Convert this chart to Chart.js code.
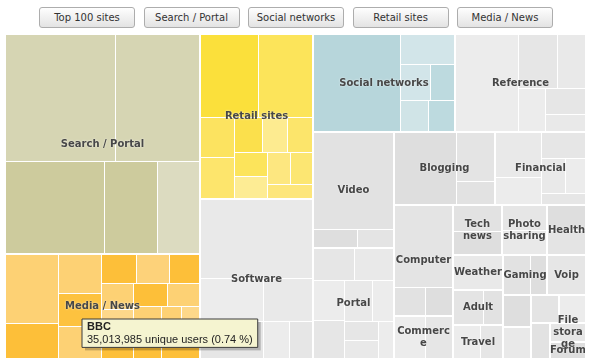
<!DOCTYPE html>
<html lang="en">
<head>
  <meta charset="UTF-8">
  <title>Top 100 sites</title>
  <script src="https://cdn.jsdelivr.net/npm/chart.js"></script>
  <style>
    body { margin: 0; background: #fff; }
    #buttons { position: absolute; left: 39px; top: 7px; display: flex; gap: 8.5px; }
    #buttons button {
      width: 96px; height: 21px; padding: 0;
      font: 10px "DejaVu Sans", sans-serif; color: #333;
      background: linear-gradient(#fefefe, #e3e3e3);
      border: 1px solid #adadad; border-radius: 3px;
    }
    #box { position: absolute; left: 4px; top: 33px; width: 581px; height: 325px; }
  </style>
</head>
<body>
  <div id="buttons">
    <button>Top 100 sites</button>
    <button>Search / Portal</button>
    <button>Social networks</button>
    <button>Retail sites</button>
    <button>Media / News</button>
  </div>
  <div id="box"><canvas id="map"></canvas></div>

  <script>
    // unique users per site, in millions, largest first inside each category
    const groupNames = ['Search / Portal', 'Media / News', 'Retail sites', 'Software', 'Social networks',
      'Reference', 'Video', 'Portal', 'Blogging', 'Financial', 'Computer', 'Commerce', 'Tech news',
      'Photo sharing', 'Health', 'Weather', 'Adult', 'Travel', 'Gaming', 'Voip', 'Music', 'Email',
      'Maps', 'Dating', 'Sports', 'File storage', 'Forum'];

    const searchPortal = [351.7, 270.3, 230.0, 123.3, 97.2];
    const mediaNews = [94.2, 47.1, 42.4, 35.013985, 34.4, 26.1, 24.0, 22.1, 21.3, 20.8, 20.3, 19.7, 19.2, 18.7, 18.1, 17.3, 16.5, 15.4];
    const retailSites = [123.1, 112.3, 35.0, 35.0, 25.2, 22.4, 22.4, 19.6, 18.8, 18.2, 17.3, 16.4];
    const software = [225.3, 69.3, 59.4, 52.5, 23.9, 21.1];
    const socialNetworks = [216.3, 42.1, 27.2, 22.7, 21.8, 21.0];
    const reference = [154.3, 54.3, 37.6, 30.0, 26.8, 18.2];
    const video = [199.5, 19.6, 15.6];
    const portal = [34.4, 32.7, 31.7, 30.0, 29.5, 21.1, 17.5, 15.6, 14.0];
    const blogging = [113.5, 48.2, 22.1];
    const financial = [52.7, 30.7, 29.3, 22.1, 17.4, 12.5];
    const computer = [121.9, 22.3, 19.3];
    const commerce = [34.3, 28.8];
    const techNews = [32.9, 28.9];
    const photoSharing = [29.6, 28.3];
    const health = [25.1, 23.8];
    const weather = [44.5];
    const adult = [26.9, 17.4];
    const travel = [23.4, 19.9];
    const gaming = [26.9, 15.6];
    const voip = [39.0];
    const music = [22.7];
    const email = [22.1];
    const maps = [19.8];
    const dating = [19.3];
    const sports = [17.0];
    const fileStorage = [16.8];
    const forum = [15.0];

    const groupSites = [searchPortal, mediaNews, retailSites, software, socialNetworks, reference, video,
      portal, blogging, financial, computer, commerce, techNews, photoSharing, health, weather, adult,
      travel, gaming, voip, music, email, maps, dating, sports, fileStorage, forum];

    // the site shown in the tooltip
    const shownSite = { group: 1, index: 3, name: 'BBC' };

    // colours
    const searchColors = ['#d6d5b3', '#d6d5b3', '#cdcb9d', '#cdcb9d', '#dcdbc0'];
    const mediaColors = ['#fdd174', '#fdbf39', '#fdd174', '#fdc23f', '#fdd174', '#fdbf39', '#fdd27a', '#fdbf39',
      '#fdd174', '#fdd88a', '#fdbf39', '#fdbf39', '#fdd174', '#fdd174', '#fdbf39', '#fdd174', '#fdd88a', '#fdbf39'];
    const retailColors = ['#fbe03b', '#fce45a', '#fce360', '#fde56c', '#fbe04c', '#fdeb90', '#fce56b', '#fce45b',
      '#fdec94', '#fde780', '#fce672', '#fde67b'];
    const socialColors = ['#b7d6db', '#d2e5e9', '#d2e5e9', '#bddadf', '#d0e4e7', '#bddadf'];
    const grays = ['#e2e2e2', '#e6e6e6', '#dedede', '#e9e9e9', '#e4e4e4', '#ececec'];
    const groupColors = { 0: searchColors, 1: mediaColors, 2: retailColors, 4: socialColors };

    const W = 581, H = 325;

    const leaves = [];
    groupSites.forEach((sites, g) => sites.forEach((v, s) => {
      const pal = groupColors[g];
      leaves.push({ g, s, v, color: pal ? pal[s % pal.length] : grays[(g + s * 2) % grays.length] });
    }));
    const total = leaves.reduce((a, l) => a + l.v, 0);

    function worst(row, side) {
      const s = row.reduce((a, b) => a + b, 0);
      const max = Math.max(...row), min = Math.min(...row);
      return Math.max(side * side * max / (s * s), (s * s) / (side * side * min));
    }

    // classic squarified layout, values already sorted largest first
    function squarify(values, rect) {
      const sum = values.reduce((a, b) => a + b, 0);
      const k = (rect.x1 - rect.x0) * (rect.y1 - rect.y0) / sum;
      let { x0, y0, x1, y1 } = rect;
      const out = [];
      let i = 0;
      while (i < values.length) {
        const w = x1 - x0, h = y1 - y0;
        const side = Math.min(w, h);
        let row = [values[i] * k];
        let best = worst(row, side);
        let j = i + 1;
        while (j < values.length) {
          const next = row.concat(values[j] * k);
          const r = worst(next, side);
          if (r > best) break;
          row = next; best = r; j++;
        }
        const thick = row.reduce((a, b) => a + b, 0) / side;
        if (w > h) {
          let y = y0;
          row.forEach(a => { out.push({ x0, y0: y, x1: x0 + thick, y1: y + a / thick }); y += a / thick; });
          x0 += thick;
        } else {
          let x = x0;
          row.forEach(a => { out.push({ x0: x, y0, x1: x + a / thick, y1: y0 + thick }); x += a / thick; });
          y0 += thick;
        }
        i = j;
      }
      return out;
    }

    class TreemapCell extends Chart.Element {
      draw(ctx) {
        ctx.fillStyle = this.options.backgroundColor;
        ctx.fillRect(this.x, this.y, this.width, this.height);
      }
      inRange(mx, my) {
        return mx >= this.x && mx <= this.x + this.width && my >= this.y && my <= this.y + this.height;
      }
      inXRange(mx) { return mx >= this.x && mx <= this.x + this.width; }
      inYRange(my) { return my >= this.y && my <= this.y + this.height; }
      getCenterPoint() { return { x: this.x + this.width / 2, y: this.y + this.height / 2 }; }
      tooltipPosition() { return this.getCenterPoint(); }
    }
    TreemapCell.id = 'treemapCell';
    TreemapCell.defaults = { backgroundColor: '#e3e3e3' };

    class TreemapController extends Chart.DatasetController {
      update() {
        const meta = this._cachedMeta;
        const xs = meta.xScale, ys = meta.yScale;
        const px = r => ({
          left: Math.round(xs.getPixelForValue(r.x0)), right: Math.round(xs.getPixelForValue(r.x1)),
          top: Math.round(ys.getPixelForValue(r.y0)), bottom: Math.round(ys.getPixelForValue(r.y1))
        });
        const totals = groupSites.map(s => s.reduce((a, b) => a + b, 0));
        const groups = squarify(totals, { x0: xs.min, y0: ys.min, x1: xs.max, y1: ys.max });
        meta.groupBoxes = [];
        let n = 0;
        groups.forEach((gr, g) => {
          meta.groupBoxes.push(px(gr));
          const cells = squarify(groupSites[g], { x0: gr.x0 + 1, y0: gr.y0 + 1, x1: gr.x1, y1: gr.y1 });
          cells.forEach(c => {
            const p = px(c);
            Object.assign(meta.data[n], {
              x: p.left + 1, y: p.top + 1, width: p.right - p.left - 1, height: p.bottom - p.top - 1,
              options: this.resolveDataElementOptions(n, 'none')
            });
            n++;
          });
        });
      }
    }
    TreemapController.id = 'treemap';
    TreemapController.defaults = { datasetElementType: false, dataElementType: 'treemapCell' };

    Chart.register(TreemapController, TreemapCell);

    Chart.Tooltip.positioners.cell = function (items) {
      if (!items.length) return false;
      const el = items[0].element;
      return { x: el.x + el.width / 2 + 2, y: el.y + el.height / 2 + 9 };
    };

    function wrapText(ctx, text, maxW) {
      const lines = [];
      let cur = '';
      text.split(' ').forEach(word => {
        const test = cur ? cur + ' ' + word : word;
        if (ctx.measureText(test).width <= maxW) { cur = test; return; }
        if (cur) lines.push(cur);
        cur = word;
        while (ctx.measureText(cur).width > maxW && cur.length > 1) {
          let k = cur.length - 1;
          while (k > 1 && ctx.measureText(cur.slice(0, k)).width > maxW) k--;
          lines.push(cur.slice(0, k));
          cur = cur.slice(k);
        }
      });
      if (cur) lines.push(cur);
      return lines;
    }

    const groupLabels = {
      id: 'groupLabels',
      afterDatasetsDraw(chart) {
        const boxes = chart.getDatasetMeta(0).groupBoxes || [];
        const ctx = chart.ctx;
        ctx.save();
        ctx.font = 'bold 10px "DejaVu Sans"';
        ctx.textAlign = 'center';
        ctx.textBaseline = 'middle';
        ctx.fillStyle = '#474747';
        ctx.shadowColor = 'rgba(255,255,255,0.8)';
        ctx.shadowBlur = 2;
        boxes.forEach((b, g) => {
          const w = b.right - b.left;
          if (w < 32) return;
          const lines = wrapText(ctx, groupNames[g], w);
          const cx = (b.left + b.right) / 2 + 1, cy = (b.top + b.bottom) / 2 + 1;
          lines.forEach((ln, i) => ctx.fillText(ln, cx, cy + (i - (lines.length - 1) / 2) * 12));
        });
        ctx.restore();
      }
    };

    const tooltipShadow = {
      id: 'tooltipShadow',
      beforeTooltipDraw(chart, args) {
        const t = args.tooltip;
        chart.ctx.fillStyle = 'rgba(0,0,0,0.22)';
        chart.ctx.fillRect(t.x + 3, t.y + 3, t.width, t.height);
      }
    };

    const chart = new Chart(document.getElementById('map'), {
      type: 'treemap',
      data: {
        labels: leaves.map(l => groupNames[l.g]),
        datasets: [{
          data: leaves.map(l => l.v),
          backgroundColor: c => leaves[c.dataIndex].color
        }]
      },
      options: {
        responsive: true,
        maintainAspectRatio: false,
        animation: false,
        events: [],
        layout: { padding: 0 },
        scales: {
          x: { type: 'linear', min: 0, max: W, display: false },
          y: { type: 'linear', min: 0, max: H, reverse: true, display: false }
        },
        plugins: {
          legend: { display: false },
          tooltip: {
            position: 'cell',
            xAlign: 'left',
            yAlign: 'top',
            caretSize: 0,
            caretPadding: 0,
            cornerRadius: 0,
            backgroundColor: '#f5f4d0',
            borderColor: '#3c3c3c',
            borderWidth: 1,
            titleColor: '#222',
            bodyColor: '#222',
            titleFont: { family: 'Liberation Sans', size: 11, weight: 'bold', lineHeight: 1.2 },
            bodyFont: { family: 'Liberation Sans', size: 11, lineHeight: 1.2 },
            titleMarginBottom: 0,
            padding: { left: 5, right: 5, top: 1, bottom: 1 },
            displayColors: false,
            callbacks: {
              title: () => shownSite.name,
              label: item => {
                const v = item.raw;
                return Math.round(v * 1e6).toLocaleString('en-US') + ' unique users (' +
                  (v / total * 100).toFixed(2) + ' %)';
              }
            }
          }
        }
      },
      plugins: [groupLabels, tooltipShadow]
    });

    let shownIndex = 0;
    for (let g = 0; g < shownSite.group; g++) shownIndex += groupSites[g].length;
    shownIndex += shownSite.index;
    chart.tooltip.setActiveElements([{ datasetIndex: 0, index: shownIndex }], { x: 0, y: 0 });
    chart.update();
  </script>
</body>
</html>
